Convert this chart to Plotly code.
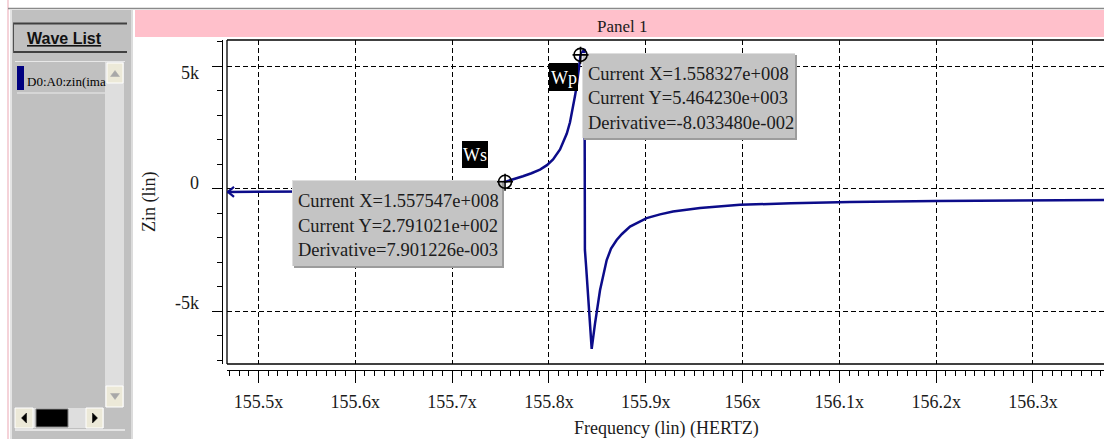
import plotly.graph_objects as go

# ---------------- data ----------------
freq_mhz = [155.4675, 155.55, 155.62, 155.68, 155.72, 155.7547, 155.7640, 155.7732, 155.7820,
            155.7908, 155.7980, 155.8043, 155.8115, 155.8146, 155.8185, 155.8218, 155.8245,
            155.8270, 155.8287, 155.8327, 155.8368, 155.8372, 155.8385, 155.8424, 155.8442,
            155.8476, 155.8528, 155.8597, 155.8642, 155.8700, 155.8755, 155.8838, 155.9010,
            155.9148, 155.9282, 155.9561, 155.9974, 156.05, 156.111, 156.20, 156.27, 156.3734]
zin_ohm = [-135, -130, -110, -50, 60, 279.1, 380, 505, 630,
           780, 960, 1190, 1600, 1890, 2250, 2710, 3200,
           3790, 4200, 5464.2, 5700, -2500, -3200, -5500, -6545,
           -5520, -4150, -2917, -2450, -2095, -1850, -1548, -1205,
           -1050, -931, -793, -657, -600, -545, -500, -475, -460]

x_tick_vals = [155.5, 155.6, 155.7, 155.8, 155.9, 156.0, 156.1, 156.2, 156.3]
x_tick_text = ["155.5x", "155.6x", "155.7x", "155.8x", "155.9x", "156x", "156.1x", "156.2x", "156.3x"]
y_tick_vals = [5000, 0, -5000]
y_tick_text = ["5k", "0", "-5k"]

cursor_names = ["Ws", "Wp"]
cursor_x_hz = [1.557547e8, 1.558327e8]
cursor_y = [2.791021e2, 5.464230e3]
cursor_deriv = [7.901226e-3, -8.033480e-2]

wave_name = "D0:A0:zin(ima"
panel_title = "Panel 1"
x_title = "Frequency (lin) (HERTZ)"
y_title = "Zin (lin)"

# ---------------- styles ----------------
W, H = 1104, 439
CURVE = "#0c0c8a"
SERIF = "Liberation Serif"
TXT = "#1b1b1b"
x_range = [155.4675, 156.3734]
y_range = [-7160, 6070]


def PX(x):
    return x / W


def PY(y):
    return 1 - y / H


shapes = []
annotations = []


def rect(x0, y0, x1, y1, fill, line=None, lw=0):
    shapes.append(dict(type="rect", xref="paper", yref="paper",
                       x0=PX(x0), x1=PX(x1), y0=PY(y1), y1=PY(y0),
                       fillcolor=fill, line=dict(color=line or fill, width=lw),
                       layer="above"))


def seg(x0, y0, x1, y1, color, lw=1):
    shapes.append(dict(type="line", xref="paper", yref="paper",
                       x0=PX(x0), x1=PX(x1), y0=PY(y0), y1=PY(y1),
                       line=dict(color=color, width=lw), layer="above"))


def tri(pts, fill):
    p = "M " + " L ".join(f"{PX(a)},{PY(b)}" for a, b in pts) + " Z"
    shapes.append(dict(type="path", xref="paper", yref="paper", path=p,
                       fillcolor=fill, line=dict(color=fill, width=0.5), layer="above"))


def text(x, y, s, size=18, color=TXT, family=SERIF, xanchor="left", **kw):
    annotations.append(dict(x=PX(x), y=PY(y), xref="paper", yref="paper", text=s,
                            showarrow=False, xanchor=xanchor, yanchor="middle",
                            font=dict(family=family, size=size, color=color), **kw))


def hspice(v):
    mant, exp = f"{v:.6e}".split("e")
    return f"{mant}e{exp[0]}{exp[1:].zfill(3)}"


# ---------------- window chrome ----------------
seg(8, 0, 8, H, "#f2c4cc", 1.5)
seg(8, 8.5, W, 8.5, "#8a8a8a", 1.5)
rect(10, 10, 133, H, "#c0c0c0")
seg(11, 10, 11, H, "#e4e4e4", 2)
seg(132, 10, 132, H, "#dcdcdc", 2)
rect(135, 10, W, 37, "#ffc0cb")
text(622, 26, panel_title, size=17, xanchor="center")

# Wave List button
rect(13, 23, 127, 53, "#c0c0c0")
seg(13, 23.5, 127, 23.5, "#404040", 2)
seg(13, 52, 127, 52, "#404040", 2)
seg(13.5, 23, 13.5, 53, "#505050", 1)
text(64, 38, "<b><u>Wave List</u></b>", size=16, color="#111111",
     family="Liberation Sans", xanchor="center")

# list box
rect(15, 61, 125, 428, "#c0c0c0")
seg(15, 61.5, 125, 61.5, "#e8e8e8", 1)
rect(17, 66, 24, 90, "#000080")
seg(17, 93, 105, 93, "#ececec", 1)
text(25, 81, wave_name, size=13, color="#000000")
# vertical scrollbar
rect(105, 62, 124, 407, "#dedede")
rect(107, 63, 123, 83, "#ece9d8", "#ffffff", 1)
tri([(110.5, 76.5), (119.5, 76.5), (115, 70.5)], "#a8a8a8")
rect(106, 386, 123, 407, "#ece9d8", "#ffffff", 1)
tri([(110.5, 393.5), (119.5, 393.5), (115, 399.5)], "#a8a8a8")
# horizontal scrollbar
rect(15, 408, 104, 428, "#dedede")
rect(15, 408, 33, 428, "#ece9d8", "#ffffff", 1)
tri([(21.5, 418), (26.5, 413), (26.5, 423)], "#000000")
rect(36, 409, 68, 427, "#000000", "#808080", 1)
rect(86, 408, 103, 428, "#ece9d8", "#ffffff", 1)
tri([(97.5, 418), (92.5, 413), (92.5, 423)], "#000000")
rect(104, 408, 124, 428, "#c0c0c0")
seg(15, 430, 125, 430, "#e4e4e4", 2)

# plot frame
seg(227, 40, W, 40, "#000000", 1.3)
seg(227, 40, 227, 364, "#000000", 1.3)
seg(227, 364, W, 364, "#000000", 1.3)

# axis titles and y tick labels
text(149, 202, y_title, size=18, xanchor="center", textangle=-90)
text(666, 428, x_title, size=18, xanchor="center")
label_shift = [-7, 6, 8]
for v, s, sh in zip(y_tick_vals, y_tick_text, label_shift):
    annotations.append(dict(x=PX(201), y=v, xref="paper", yref="y", text=s,
                            showarrow=False, xanchor="right", yanchor="middle",
                            yshift=sh, font=dict(family=SERIF, size=18, color=TXT)))

# arrow on the left end of the curve (data anchored)
shapes.append(dict(type="path", xref="x", yref="y", xsizemode="pixel", ysizemode="pixel",
                   xanchor=freq_mhz[0], yanchor=zin_ohm[0], path="M 7,5 L 1,0 L 7,-5",
                   line=dict(color=CURVE, width=2.2), layer="above"))

# cursor tooltips
boxes = [(292, 180, 502, 266), (582, 53, 795, 138)]
tags = [(462, 141, 488, 168), (549, 63, 578, 91)]
for i in range(2):
    x0, y0, x1, y1 = boxes[i]
    rect(x0 + 2, y0 + 2, x1 + 2, y1 + 2, "#9c9c9c")
    rect(x0, y0, x1, y1, "#c4c4c4")
    seg(x0, y0 + 0.5, x1, y0 + 0.5, "#dedede", 1)
    seg(x0 + 0.5, y0, x0 + 0.5, y1, "#dedede", 1)
    lines = [f"Current X={hspice(cursor_x_hz[i])}",
             f"Current Y={hspice(cursor_y[i])}",
             f"Derivative={hspice(cursor_deriv[i])}"]
    for k, s in enumerate(lines):
        text(x0 + 4, y0 + 21 + 24.5 * k, s, size=18.5)
    tx0, ty0, tx1, ty1 = tags[i]
    rect(tx0, ty0, tx1, ty1, "#000000")
    text((tx0 + tx1) / 2, (ty0 + ty1) / 2 + 1, cursor_names[i], size=18,
         color="#ffffff", xanchor="center")

# cursor markers (anchored to data)
for i in range(2):
    cx, cy = cursor_x_hz[i] / 1e6, cursor_y[i]
    shapes.append(dict(type="circle", xref="x", yref="y", xsizemode="pixel",
                       ysizemode="pixel", xanchor=cx, yanchor=cy,
                       x0=-6.5, x1=6.5, y0=-6.5, y1=6.5,
                       line=dict(color="#000000", width=1.6), layer="above"))
    shapes.append(dict(type="path", xref="x", yref="y", xsizemode="pixel",
                       ysizemode="pixel", xanchor=cx, yanchor=cy,
                       path="M -8,0 L 8,0 M 0,8 L 0,-9",
                       line=dict(color="#000000", width=1.6), layer="above"))

fig = go.Figure()
fig.add_trace(go.Scatter(x=freq_mhz, y=zin_ohm, mode="lines",
                         line=dict(color=CURVE, width=2.5), hoverinfo="skip"))

fig.update_layout(
    width=W, height=H, autosize=False,
    margin=dict(l=0, r=0, t=0, b=0, pad=0),
    paper_bgcolor="#ffffff", plot_bgcolor="#ffffff",
    showlegend=False,
    shapes=shapes, annotations=annotations,
    xaxis=dict(domain=[227 / W, 1], range=x_range, anchor="free", position=PY(370),
               showline=True, linecolor="#000000", linewidth=1,
               ticks="outside", ticklen=12, tickwidth=1, tickcolor="#000000",
               tickmode="array", tickvals=x_tick_vals, ticktext=x_tick_text,
               tickfont=dict(family=SERIF, size=18, color=TXT), ticklabelstandoff=3,
               showgrid=True, gridcolor="#000000", gridwidth=1, griddash="5px,3px",
               minor=dict(tick0=155.5, dtick=0.01, ticks="outside", ticklen=5,
                          tickwidth=1, tickcolor="#000000", showgrid=False),
               zeroline=False, fixedrange=True),
    yaxis=dict(domain=[PY(364), PY(40)], range=y_range, anchor="free", position=PX(222),
               showline=True, linecolor="#000000", linewidth=1,
               ticks="outside", ticklen=10, tickwidth=1, tickcolor="#000000",
               tickmode="array", tickvals=y_tick_vals, showticklabels=False,
               showgrid=True, gridcolor="#000000", gridwidth=1, griddash="5px,3px",
               minor=dict(tick0=0, dtick=1000, ticks="outside", ticklen=5,
                          tickwidth=1, tickcolor="#000000", showgrid=False),
               zeroline=False, fixedrange=True),
)

fig.write_html("out.html", config={"displayModeBar": False},
               post_script="document.body.style.margin='0';document.body.style.overflow='hidden';")
